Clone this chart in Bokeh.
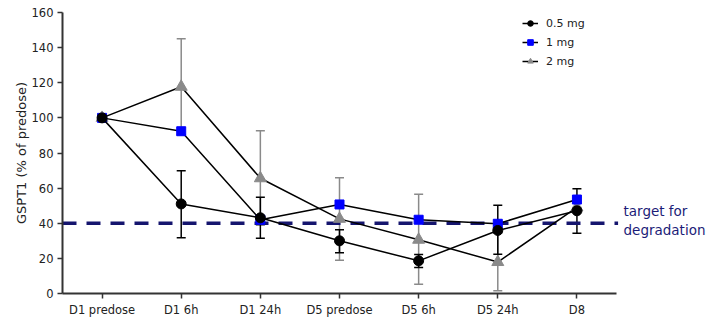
from bokeh.plotting import figure
from bokeh.models import (ColumnDataSource, Whisker, TeeHead, Label, Legend,
                          LegendItem, FixedTicker, Range1d)
from bokeh.embed import file_html
from bokeh.resources import INLINE

timepoints = ["D1 predose", "D1 6h", "D1 24h", "D5 predose", "D5 6h", "D5 24h", "D8"]

mg05 = [100, 51.0, 43.1, 30.0, 18.6, 35.9, 47.1]
mg05_lo = [100, 31.7, 31.5, 23.2, 14.8, 22.3, 34.3]
mg05_hi = [100, 69.9, 54.8, 36.3, 22.2, 50.2, 59.6]

mg1 = [100, 92.4, 42.0, 50.7, 42.0, 39.7, 53.5]

mg2 = [100, 117.7, 65.6, 42.5, 30.6, 17.9, 49.0]
mg2_lo = [100, 90.4, 38.8, 19.0, 5.3, 1.5, 49.0]
mg2_hi = [100, 145.0, 92.6, 65.9, 56.5, 34.3, 49.0]

target = 40
yticks = [0, 20, 40, 60, 80, 100, 120, 140, 160]

FONT = "DejaVu Sans"
idx = list(range(len(timepoints)))
n = len(timepoints)

AXIS_W = 554          # pixel length of the drawn x axis
FRAME_W = 650         # frame extends right to hold the annotation text
x_start = -0.5
x_axis_end = n - 0.5
x_end = x_start + (x_axis_end - x_start) * FRAME_W / AXIS_W

p = figure(frame_width=FRAME_W, frame_height=281, min_border_left=62, min_border_right=4,
           min_border_top=12, min_border_bottom=4,
           x_range=Range1d(x_start, x_end), y_range=Range1d(0, 160),
           output_backend="svg", toolbar_location=None)
p.outline_line_color = None
p.grid.visible = False

# axes
for ax in (p.xaxis[0], p.yaxis[0]):
    ax.axis_line_color = "#333333"
    ax.axis_line_width = 2
    ax.major_tick_line_color = "#333333"
    ax.major_tick_line_width = 1.5
    ax.major_tick_out = 5
    ax.major_tick_in = 0
    ax.minor_tick_line_color = None
    ax.major_label_text_font = FONT
    ax.major_label_text_font_size = "11.5px"
    ax.major_label_text_color = "#222222"
    ax.major_label_standoff = 4

p.xaxis.bounds = (x_start, x_axis_end)
p.xaxis.ticker = FixedTicker(ticks=idx)
p.xaxis.major_label_overrides = {i: t for i, t in zip(idx, timepoints)}
p.yaxis.ticker = FixedTicker(ticks=yticks)
p.yaxis.axis_label = "GSPT1 (% of predose)"
p.yaxis.axis_label_text_font = FONT
p.yaxis.axis_label_text_font_size = "13px"
p.yaxis.axis_label_text_font_style = "normal"
p.yaxis.axis_label_text_color = "#222222"
p.yaxis.axis_label_standoff = 0

# target line
p.segment(x0=[x_start], y0=[target], x1=[x_axis_end + 0.02], y1=[target],
          line_color="#15156e", line_width=3.5, line_dash="14 10")
p.add_layout(Label(x=x_axis_end, y=47, x_offset=7, text="target for",
                   text_font=FONT, text_font_size="13.5px", text_color="#1c1c78",
                   text_baseline="middle"))
p.add_layout(Label(x=x_axis_end, y=36, x_offset=7, text="degradation",
                   text_font=FONT, text_font_size="13.5px", text_color="#1c1c78",
                   text_baseline="middle"))

GRAY = "#8a8a8a"
src2 = ColumnDataSource(dict(x=idx, y=mg2, lo=mg2_lo, hi=mg2_hi))
src1 = ColumnDataSource(dict(x=idx, y=mg1))
src05 = ColumnDataSource(dict(x=idx, y=mg05, lo=mg05_lo, hi=mg05_hi))

# 2 mg
p.add_layout(Whisker(base="x", upper="hi", lower="lo", source=src2, line_color=GRAY,
                     line_width=1.5,
                     upper_head=TeeHead(size=9, line_color=GRAY, line_width=1.5),
                     lower_head=TeeHead(size=9, line_color=GRAY, line_width=1.5)))
l2 = p.line("x", "y", source=src2, line_color="black", line_width=1.5)
s2 = p.scatter("x", "y", source=src2, marker="triangle", size=12,
               fill_color=GRAY, line_color=GRAY)

# 1 mg
l1 = p.line("x", "y", source=src1, line_color="black", line_width=1.5)
s1 = p.scatter("x", "y", source=src1, marker="square", size=9,
               fill_color="#0000ff", line_color="#0000ff")

# 0.5 mg
p.add_layout(Whisker(base="x", upper="hi", lower="lo", source=src05, line_color="black",
                     line_width=1.5,
                     upper_head=TeeHead(size=9, line_color="black", line_width=1.5),
                     lower_head=TeeHead(size=9, line_color="black", line_width=1.5)))
l05 = p.line("x", "y", source=src05, line_color="black", line_width=1.5)
s05 = p.scatter("x", "y", source=src05, marker="circle", size=10,
                fill_color="black", line_color="black")

legend = Legend(items=[LegendItem(label="0.5 mg", renderers=[l05, s05]),
                       LegendItem(label="1 mg", renderers=[l1, s1]),
                       LegendItem(label="2 mg", renderers=[l2, s2])],
                location=(460, 225), border_line_alpha=0, background_fill_alpha=0,
                label_text_font=FONT, label_text_font_size="11px",
                label_text_color="#222222", glyph_width=16, glyph_height=14,
                label_height=14, spacing=5, padding=0, margin=0, label_standoff=8)
p.add_layout(legend)

open("out.html", "w").write(file_html(p, INLINE))
